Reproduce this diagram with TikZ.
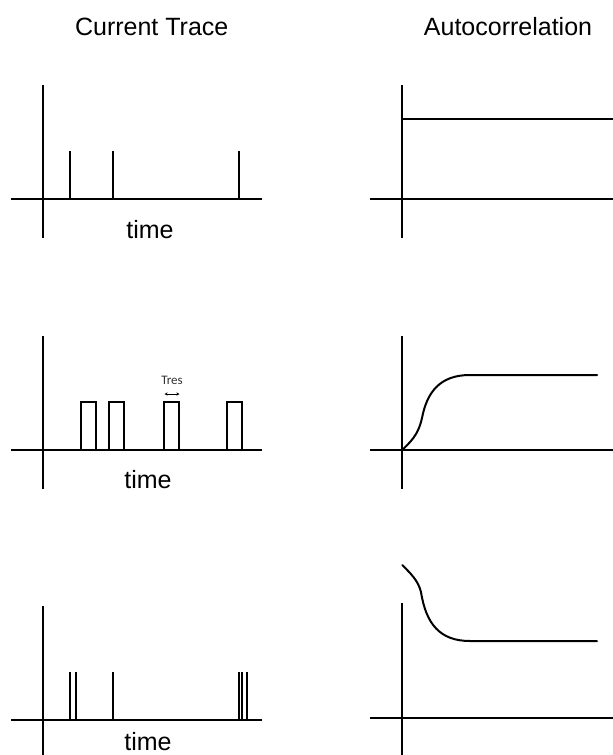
\documentclass[tikz,border=0pt]{standalone}
\usepackage{fontspec}
\setmainfont{Liberation Sans}
\newfontfamily\tresfont{Carlito}
\usetikzlibrary{arrows.meta}
\begin{document}
\begin{tikzpicture}[x=1pt,y=-1pt,
  ax/.style={line width=2pt, black},
  sig/.style={line width=2pt, black, line join=miter},
  lbl/.style={font=\fontsize{25}{28}\selectfont, anchor=base, inner sep=0pt},
  tres/.style={font=\tresfont\fontsize{13}{15}\selectfont, anchor=base, inner sep=0pt, text=black!80}]
\useasboundingbox (0,0) rectangle (613,755);
% titles
\node[lbl] (t1) at (151.7,35) {Current Trace};
\node[lbl] (t2) at (508,35) {Autocorrelation};
% ===== Row 1 =====
\draw[ax] (42.7,85) -- (42.7,238);
\draw[ax] (11,199.3) -- (262,199.3);
\draw[sig] (70,199.3) -- (70,150.7);
\draw[sig] (113,199.3) -- (113,150.7);
\draw[sig] (239,199.3) -- (239,150.7);
\node[lbl] (time1) at (150,238) {time};
\draw[ax] (402.3,85) -- (402.3,238);
\draw[ax] (370,199.3) -- (613,199.3);
\draw[sig] (402.3,118.7) -- (613,118.7);
% ===== Row 2 =====
\draw[ax] (42.7,336) -- (42.7,489);
\draw[ax] (11,450) -- (261.7,450);
\foreach \a/\b in {80.7/95.7, 109.3/124.3, 164.3/179, 226.7/242}
  \draw[sig] (\a,450) -- (\a,401.7) -- (\b,401.7) -- (\b,450);
\node[tres] (tres) at (172,384.5) {Tres};
\draw[line width=0.9pt, {Stealth[length=3.2pt,width=3.2pt]}-{Stealth[length=3.2pt,width=3.2pt]}] (164.5,394) -- (179.5,394);
\node[lbl] (time2) at (148,488) {time};
\draw[ax] (402.3,335.7) -- (402.3,489);
\draw[ax] (370,450) -- (613,450);
\draw[sig, line cap=round] (402.3,450) .. controls (410,442) and (418,436) .. (422,418)
  .. controls (427,392) and (440,375) .. (470,375) -- (597,375);
% ===== Row 3 =====
\draw[ax] (42.7,606) -- (42.7,760);
\draw[ax] (11,720) -- (261.7,720);
\foreach \x in {70, 76, 113.3, 239, 241.5, 246.7}
  \draw[sig] (\x,720) -- (\x,671.7);
\node[lbl, text depth=0pt] (time3) at (148,750.5) {time};
\draw[ax] (402.3,603.3) -- (402.3,760);
\draw[ax] (370,718) -- (613,718);
\draw[sig, line cap=round] (402.3,565) .. controls (410,573) and (418,580) .. (421,592)
  .. controls (426,624) and (440,641) .. (470,641) -- (597,641);
\end{tikzpicture}
\end{document}
